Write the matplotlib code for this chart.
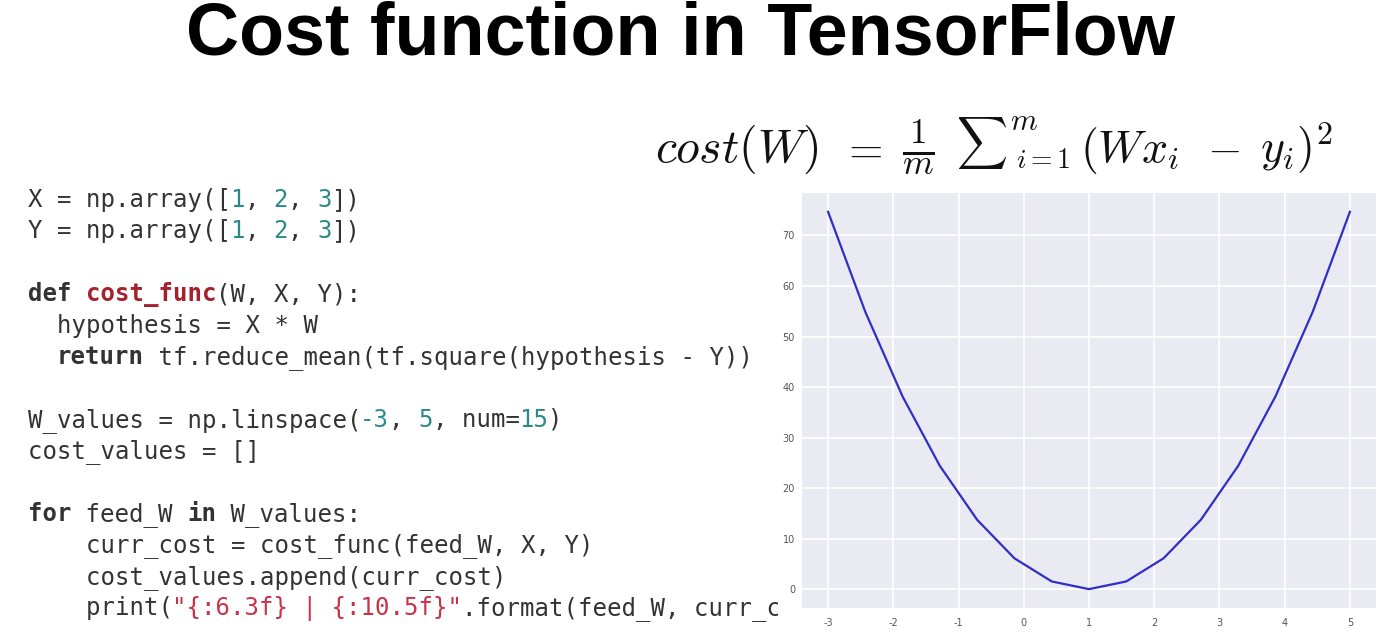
import matplotlib
matplotlib.use('Agg')
import matplotlib.pyplot as plt
from matplotlib.patches import Rectangle

# data
w_values = [-3.0, -2.429, -1.857, -1.286, -0.714, -0.143, 0.429, 1.0,
            1.571, 2.143, 2.714, 3.286, 3.857, 4.429, 5.0]
cost_values = [74.67, 54.86, 38.10, 24.38, 13.71, 6.10, 1.52, 0.0,
               1.52, 6.10, 13.71, 24.38, 38.10, 54.86, 74.67]
x_ticks = [-3, -2, -1, 0, 1, 2, 3, 4, 5]
y_ticks = [0, 10, 20, 30, 40, 50, 60, 70]

title = "Cost function in TensorFlow"
# formula pieces: (mathtext, x, baseline y, size)
formula_parts = [
    (r"$cost(W)$", 655, 162, 34.5),
    (r"$=$", 841, 162, 32),
    (r"$\frac{1}{m}$", 902, 162, 36),
    (r"$\sum$", 956, 155, 25.5),
    (r"$m$", 1010, 130, 22),
    (r"$i{=}1$", 1016, 168, 20),
    (r"$(Wx_i$", 1080, 162, 33),
    (r"$-$", 1207, 162, 32),
    (r"$y_i)^2$", 1260, 162, 33),
]

# code lines as (text, colour, bold) segments
TXT = '#333333'
NUM = '#2b8a88'
FN = '#a3222b'
STR = '#c8334a'
code_lines = [
    [("X = np.array([", TXT, False), ("1", NUM, False), (", ", TXT, False), ("2", NUM, False),
     (", ", TXT, False), ("3", NUM, False), ("])", TXT, False)],
    [("Y = np.array([", TXT, False), ("1", NUM, False), (", ", TXT, False), ("2", NUM, False),
     (", ", TXT, False), ("3", NUM, False), ("])", TXT, False)],
    [],
    [("def", TXT, True), (" ", TXT, False), ("cost_func", FN, True), ("(W, X, Y):", TXT, False)],
    [("  hypothesis = X * W", TXT, False)],
    [("  ", TXT, False), ("return", TXT, True), (" tf.reduce_mean(tf.square(hypothesis - Y))", TXT, False)],
    [],
    [("W_values = np.linspace(", TXT, False), ("-3", NUM, False), (", ", TXT, False), ("5", NUM, False),
     (", num=", TXT, False), ("15", NUM, False), (")", TXT, False)],
    [("cost_values = []", TXT, False)],
    [],
    [("for", TXT, True), (" feed_W ", TXT, False), ("in", TXT, True), (" W_values:", TXT, False)],
    [("    curr_cost = cost_func(feed_W, X, Y)", TXT, False)],
    [("    cost_values.append(curr_cost)", TXT, False)],
    # the plot covers the rest of this line on the slide
    [("    print(", TXT, False), ('"{:6.3f} | {:10.5f}"', STR, False), (".format(feed_W, curr_c", TXT, False)],
]

plt.rcParams['axes.unicode_minus'] = False
plt.rcParams['mathtext.fontset'] = 'cm'

W, H = 1377, 637
fig = plt.figure(figsize=(W / 100, H / 100), dpi=100)
fig.patch.set_facecolor('white')

fig.text(680 / W, 1 - 54.5 / H, title, ha='center', va='baseline', fontsize=53,
         fontweight='bold', family='Liberation Sans', color='black')

for tex, px, py, size in formula_parts:
    fig.text(px / W, 1 - py / H, tex, ha='left', va='baseline', fontsize=size, color='#111111')

# code block, monospace so columns are fixed width
cw = 14.45
fs = cw / 0.602 * 72 / 100
x0, y0, dy = 28, 207, 31.4
for i, segs in enumerate(code_lines):
    col = 0
    for txt, colr, bold in segs:
        fig.text((x0 + col * cw) / W, 1 - (y0 + i * dy) / H, txt, ha='left', va='baseline',
                 fontsize=fs, family='DejaVu Sans Mono', color=colr,
                 fontweight='bold' if bold else 'normal', zorder=-2)
        col += len(txt)

# white margin of the pasted plot cuts the last line
fig.patches.append(Rectangle((778 / W, 0), 1 - 778 / W, 1 - 185 / H, transform=fig.transFigure,
                             facecolor='white', edgecolor='none', zorder=-1))

ax = fig.add_axes([802 / W, 1 - 608 / H, (1376 - 802) / W, (608 - 193) / H])
ax.set_facecolor('#eaeaf2')
for s in ax.spines.values():
    s.set_visible(False)
ax.grid(True, color='white', linewidth=1.2)
ax.set_axisbelow(True)
ax.plot(w_values, cost_values, color='#2f2fc8', linewidth=1.6)
ax.set_xticks(x_ticks)
ax.set_yticks(y_ticks)
ax.tick_params(length=0, labelsize=7, labelcolor='#555555', pad=7)
ax.tick_params(axis='y', pad=5)

fig.savefig('out.png', dpi=100)
